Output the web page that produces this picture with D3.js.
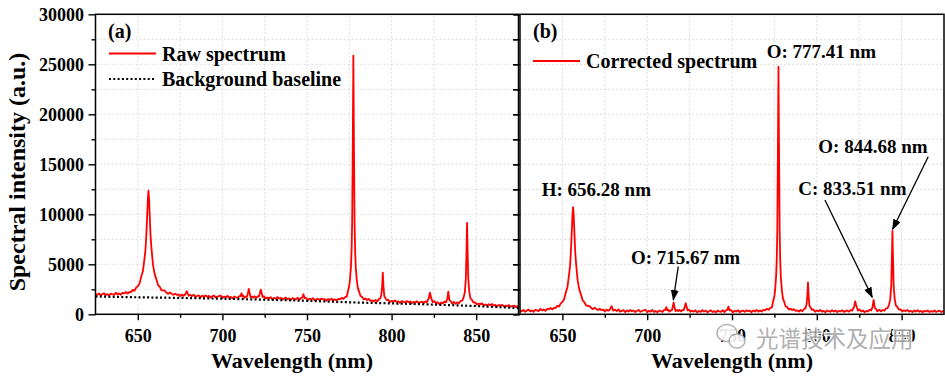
<!DOCTYPE html>
<html><head><meta charset="utf-8">
<script src="https://cdn.jsdelivr.net/npm/d3@7"></script>
<style>
body{margin:0;background:#fff}
svg{display:block}
</style>
</head><body>
<svg id="chart" width="945" height="378"></svg>
<script>
// ---------------- DATA ----------------
const wavelength = [
 625,626,627,628,629,630,631,632,633,634,635,636,637,638,639,640,641,642,643,644,645,646,647,648,649,650,
 651,652,653,654,654.5,655,655.5,655.8,656,656.3,656.6,656.8,657.1,657.5,658,658.5,659,
 660,661,662,663,664,665,666,667,668,669,670,671,672,673,674,675,676,677,678,679,680,681,682,683,684,685,686,687,688,689,690,691,692,693,694,695,696,697,698,699,700,701,702,703,704,705,706,707,708,709,
 710,710.7,711.3,711.9,712.5,713,713.8,714.5,715,715.6,716.1,716.7,717.5,718.3,719,720,720.8,721.5,722.1,722.7,723.2,723.8,724.6,725.5,726.5,727.5,728.5,729.5,730.5,731.5,732.5,733.5,734.5,735.5,736.5,737.5,738.5,739.5,740.5,741.5,742.5,743.5,744.5,745.5,746.5,747.2,747.9,748.6,749.4,
 750.5,751.5,752.5,753.5,754.5,755.5,756.5,757.5,758.5,759.5,760.5,761.5,762.5,763.5,764.5,765.5,766.5,767.5,768.5,769.5,770.5,771.5,772.5,773.5,
 774.3,775,775.4,776,776.4,776.7,777.1,777.4,777.7,778.1,778.4,778.8,779.4,780,780.8,781.6,782.5,783.5,784.5,785.5,786.5,787.5,788.5,789.5,790.5,791.5,792.5,793.3,793.9,794.4,794.8,795.2,795.7,796.3,797.1,798,799,
 800,801,802,803,804,805,806,807,808,809,810,811,812,813,814,815,816,817,818,819,
 820,820.9,821.5,822,822.4,822.7,823.1,823.6,824.3,825.2,826.2,827.2,828.2,829.2,830.2,831.2,832.1,832.8,833.2,833.5,833.8,834.2,834.9,835.8,836.8,837.8,838.8,839.8,840.8,841.8,842.6,843.3,843.9,844.3,844.6,844.9,845.3,845.9,846.6,847.4,848.4,849.4,
 850.4,851.4,852.4,853.4,854.4,855.4,856.4,857.4,858.4,859.4,860.4,861.4,862.4,863.4,864.4,865.4,866.4,867.4,868.4,869.4,870.4,871.4,872.4,873.4,874.4,875
];
const rawIntensity = [
 2040,1935,2085,1885,2000,2110,1920,2025,1865,2070,2005,1935,2155,1995,2085,1950,2157,2081,2238,2075,2231,2213,2443,2341,2669,2810,
 3062,3745,4300,5617,6401,7794,9714,10920,11700,12360,11690,10900,9680,7955,6745,5805,4915,
 3990,3489,2904,2744,2396,2390,2359,2153,2042,2195,2057,1944,2067,1935,1988,1811,1977,1854,1986,2309,1855,1949,1810,1971,1753,1826,1899,1682,1855,1749,1893,1758,1843,1677,1802,1877,1693,1768,1823,1879,1635,1780,1695,1850,1645,1750,1596,1781,1706,1641,
 1826,1820,2102,1775,1845,1641,1754,1755,2044,2545,2108,1686,1793,1677,1804,1632,1798,1764,2073,2456,2122,1726,1803,1574,1679,1592,1715,1499,1644,1549,1723,1568,1653,1488,1593,1679,1503,1589,1454,1629,1555,1501,1656,1462,1629,1667,2002,1611,1656,
 1412,1571,1473,1616,1409,1502,1556,1420,1569,1483,1527,1356,1535,1421,1571,1393,1499,1387,1551,1492,1644,1536,1722,1758,
 2412,2870,3476,4801,6662,9385,18138,25860,18135,9378,6651,4746,3474,2664,2267,1840,1748,1495,1588,1434,1536,1347,1396,1280,1435,1293,1516,1578,1923,2747,4170,2743,1815,1644,1416,1442,1218,
 1335,1265,1395,1206,1288,1140,1313,1246,1180,1324,1188,1292,1116,1241,1185,1300,1114,1199,1265,1131,
 1291,1225,1467,1580,1993,2160,1823,1543,1214,1313,1113,1207,1029,1162,1096,1264,1197,1482,1883,2260,1879,1424,1317,1066,1235,1059,1190,1108,1332,1366,1710,2223,3634,6543,9150,6540,3625,2277,1596,1462,1176,1180,
 969,1074,991,1093,917,983,860,1018,897,1027,857,937,788,939,850,951,782,873,795,926,758,829,871,713,825,770
];
const correctedIntensity = [
 390,290,440,245,360,475,290,395,240,450,390,320,540,385,480,345,558,485,646,486,645,630,863,765,1096,1240,
 1494,2180,2737,4057,4842,6235,8157,9361,10141,10720,10130,9340,8120,6400,5195,4254,3365,
 2444,1945,1362,1205,859,856,827,623,515,670,533,424,549,420,475,301,470,350,486,812,361,458,322,487,272,348,424,210,387,284,431,299,387,225,353,431,250,328,387,446,205,354,273,432,231,340,190,379,308,247,
 436,433,717,393,465,263,379,383,674,1177,742,323,433,320,450,282,451,420,731,1117,785,391,471,246,355,272,400,188,337,246,425,274,363,203,312,402,231,321,190,370,300,250,410,220,391,432,770,382,431,
 195,360,268,417,216,315,375,245,400,320,370,205,390,282,438,266,378,272,442,389,547,445,637,679,
 1338,1800,2408,3737,5600,8325,17080,24760,17080,8325,5600,3697,2428,1621,1228,805,717,469,566,417,523,339,392,280,440,302,530,595,943,1769,3180,1769,843,675,450,480,260,
 380,310,445,260,347,204,382,320,258,407,276,385,214,343,292,412,231,321,391,262,
 427,365,610,725,1140,1290,974,696,370,474,280,380,208,347,287,461,399,688,1091,1440,1091,638,535,290,465,295,432,356,586,626,975,1492,2906,5818,8340,5818,2906,1562,885,756,476,486,
 282,395,320,430,262,336,221,387,274,412,250,338,197,356,275,384,223,322,252,391,231,310,360,210,330,280
];
const baselineWavelength = [625,650,675,700,725,750,775,800,825,850,875];
const baselineIntensity  = [1780,1700,1640,1560,1460,1350,1200,1090,970,820,620];

const xMajorTicks = [650,700,750,800,850];
const xMinorTicks = [675,725,775,825];
const yMajorTicks = [0,5000,10000,15000,20000,25000,30000];
const yMinorTicks = [2500,7500,12500,17500,22500,27500];
const gridX = [650,675,700,725,750,775,800,825,850];
const gridY = [2500,5000,7500,10000,12500,15000,17500,20000,22500,25000,27500];

const annLabels = ["H: 656.28 nm","O: 715.67 nm","C: 833.51 nm","O: 844.68 nm","O: 777.41 nm"];
const annTextX  = [637.8, 690.4, 789.1, 800.9, 770.5];
const annTextY  = [11830, 5000, 11930, 16160, 25660];
const arrowFromX = [718.3, 804.8, 865.7];
const arrowFromY = [4760, 11430, 15760];
const arrowToX   = [715.4, 832.7, 844.7];
const arrowToY   = [1430, 1700, 8500];

const legendA = ["Raw spectrum","Background baseline"];
const legendB = ["Corrected spectrum"];
const xTitle = "Wavelength (nm)";
const yTitle = "Spectral intensity (a.u.)";
const watermark = "光谱技术及应用";

// ---------------- DRAW ----------------
const svg = d3.select("#chart");
const FONT = "'Liberation Serif','Times New Roman',serif";
const n = Math.min(wavelength.length, rawIntensity.length, correctedIntensity.length);
const pts = d3.range(n).map(i => ({w: wavelength[i], r: rawIntensity[i], c: correctedIntensity[i]}));
const basePts = baselineWavelength.map((w,i)=>({w, v: baselineIntensity[i]}));

const y = d3.scaleLinear().domain([0,30000]).range([314.3,14.3]);
const xa = d3.scaleLinear().domain([625,875]).range([95.5,518.5]);
const xb = d3.scaleLinear().domain([625,875]).range([520,944]);

const defs = svg.append("defs");
defs.append("clipPath").attr("id","clipA").append("rect")
  .attr("x",xa.range()[0]).attr("y",y.range()[1]).attr("width",xa.range()[1]-xa.range()[0]).attr("height",y.range()[0]-y.range()[1]);
defs.append("clipPath").attr("id","clipB").append("rect")
  .attr("x",xb.range()[0]).attr("y",y.range()[1]).attr("width",xb.range()[1]-xb.range()[0]).attr("height",y.range()[0]-y.range()[1]);
defs.append("marker").attr("id","arrow").attr("markerUnits","userSpaceOnUse")
  .attr("markerWidth",11).attr("markerHeight",8).attr("refX",10).attr("refY",4).attr("orient","auto")
  .append("path").attr("d","M0,0 L11,4 L0,8 Z").attr("fill","#000");

function grid(x){
  const g = svg.append("g").attr("stroke","#d4d4d4").attr("stroke-width",0.8).attr("stroke-dasharray","2,2");
  g.selectAll("line.v").data(gridX).join("line").attr("x1",d=>x(d)).attr("x2",d=>x(d)).attr("y1",y.range()[0]).attr("y2",y.range()[1]);
  g.selectAll("line.h").data(gridY).join("line").attr("x1",x.range()[0]).attr("x2",x.range()[1]).attr("y1",d=>y(d)).attr("y2",d=>y(d));
}
grid(xa); grid(xb);

// spectra
svg.append("path").datum(pts).attr("clip-path","url(#clipA)")
  .attr("fill","none").attr("stroke","#ff0000").attr("stroke-width",1.8).attr("stroke-linejoin","round")
  .attr("d", d3.line().x(d=>xa(d.w)).y(d=>y(d.r)));
svg.append("path").datum(basePts).attr("clip-path","url(#clipA)")
  .attr("fill","none").attr("stroke","#000").attr("stroke-width",2.2).attr("stroke-dasharray","2,2.3")
  .attr("d", d3.line().curve(d3.curveMonotoneX).x(d=>xa(d.w)).y(d=>y(d.v)));
svg.append("path").datum(pts).attr("clip-path","url(#clipB)")
  .attr("fill","none").attr("stroke","#ff0000").attr("stroke-width",1.8).attr("stroke-linejoin","round")
  .attr("d", d3.line().x(d=>xb(d.w)).y(d=>y(d.c)));

function styleAxis(g){
  g.attr("font-family",FONT).attr("font-weight","bold").attr("font-size",18);
  g.selectAll("line").attr("stroke","#000").attr("stroke-width",1.4);
  g.selectAll("path.domain").attr("stroke","#000").attr("stroke-width",1.5);
  g.selectAll("text").attr("fill","#000");
}

function panelAxes(x, withYLabels){
  const y0 = y.range()[0];
  svg.append("g").attr("transform",`translate(0,${y0})`)
    .call(d3.axisBottom(x).tickValues(xMajorTicks).tickSize(6).tickSizeOuter(0).tickPadding(9).tickFormat(d3.format("d")))
    .call(styleAxis).call(g=>g.select(".domain").remove());
  svg.append("g").attr("transform",`translate(0,${y0})`)
    .call(d3.axisBottom(x).tickValues(xMinorTicks).tickSize(3.5).tickSizeOuter(0).tickFormat(""))
    .call(styleAxis).call(g=>g.select(".domain").remove());
  const x0 = x.range()[0], x1 = x.range()[1];
  if (withYLabels){
    svg.append("g").attr("transform",`translate(${x0},0)`)
      .call(d3.axisLeft(y).tickValues(yMajorTicks).tickSize(7).tickSizeOuter(0).tickPadding(4.5).tickFormat(d3.format("d")))
      .call(styleAxis).call(g=>g.select(".domain").remove());
    svg.append("g").attr("transform",`translate(${x0},0)`)
      .call(d3.axisLeft(y).tickValues(yMinorTicks).tickSize(4).tickSizeOuter(0).tickFormat(""))
      .call(styleAxis).call(g=>g.select(".domain").remove());
    svg.append("g").attr("transform",`translate(${x1},0)`)
      .call(d3.axisLeft(y).tickValues(yMajorTicks.concat(yMinorTicks)).tickSize(5).tickSizeOuter(0).tickFormat(""))
      .call(styleAxis).call(g=>g.select(".domain").remove());
  } else {
    svg.append("g").attr("transform",`translate(${x0},0)`)
      .call(d3.axisLeft(y).tickValues(yMajorTicks.concat(yMinorTicks)).tickSize(7).tickSizeOuter(0).tickFormat(""))
      .call(styleAxis).call(g=>g.select(".domain").remove());
  }
  svg.append("rect").attr("x",x0).attr("y",y.range()[1]).attr("width",x1-x0).attr("height",y0-y.range()[1])
    .attr("fill","none").attr("stroke","#000").attr("stroke-width",1.5);
}
panelAxes(xa, true);
panelAxes(xb, false);

const T = svg.append("g").attr("font-family",FONT).attr("font-weight","bold").attr("fill","#000");
T.append("text").attr("x",292).attr("y",368).attr("text-anchor","middle").attr("font-size",22).text(xTitle);
T.append("text").attr("x",732).attr("y",368).attr("text-anchor","middle").attr("font-size",22).text(xTitle);
T.append("text").attr("transform","translate(25,172) rotate(-90)").attr("text-anchor","middle").attr("font-size",24).text(yTitle);

T.append("text").attr("x",108).attr("y",38).attr("font-size",20).text("(a)");
T.append("text").attr("x",533).attr("y",38).attr("font-size",20).text("(b)");
svg.append("line").attr("x1",109).attr("x2",156).attr("y1",53.5).attr("y2",53.5).attr("stroke","#ff0000").attr("stroke-width",1.8);
T.append("text").attr("x",162).attr("y",61).attr("font-size",20).text(legendA[0]);
svg.append("line").attr("x1",109).attr("x2",156).attr("y1",79).attr("y2",79).attr("stroke","#000").attr("stroke-width",2.2).attr("stroke-dasharray","2,2.3");
T.append("text").attr("x",162).attr("y",86).attr("font-size",20).text(legendA[1]);
svg.append("line").attr("x1",533).attr("x2",580).attr("y1",61).attr("y2",61).attr("stroke","#ff0000").attr("stroke-width",1.8);
T.append("text").attr("x",586).attr("y",68).attr("font-size",20).text(legendB[0]);

annLabels.forEach((t,i)=>{
  T.append("text").attr("x",xb(annTextX[i])).attr("y",y(annTextY[i])).attr("font-size",19).text(t);
});
arrowFromX.forEach((d,i)=>{
  svg.append("line").attr("x1",xb(d)).attr("y1",y(arrowFromY[i])).attr("x2",xb(arrowToX[i])).attr("y2",y(arrowToY[i]))
    .attr("stroke","#000").attr("stroke-width",1.3).attr("marker-end","url(#arrow)");
});

const wm = svg.append("g").attr("opacity",0.9);
wm.append("ellipse").attr("cx",727).attr("cy",333).attr("rx",10).attr("ry",8.5).attr("fill","#fff").attr("stroke","#aaa").attr("stroke-width",1.5);
wm.append("ellipse").attr("cx",737).attr("cy",341).attr("rx",8).attr("ry",7).attr("fill","#fff").attr("stroke","#aaa").attr("stroke-width",1.5);
wm.append("text").attr("x",756).attr("y",347).attr("font-family","'Noto Sans CJK SC',sans-serif").attr("font-size",22.5)
  .attr("fill","#a8a8a8").attr("stroke","#fff").attr("stroke-width",2.5).attr("paint-order","stroke").text(watermark);
</script>
</body></html>
